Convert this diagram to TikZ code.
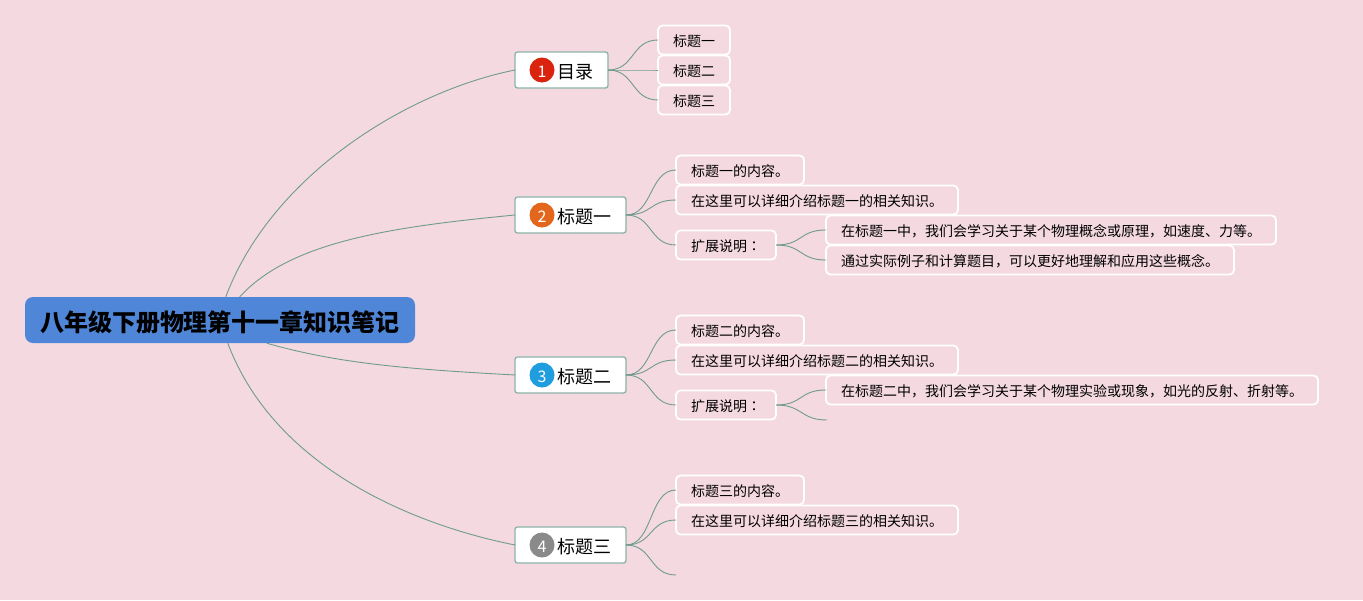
\documentclass[tikz,border=0pt]{standalone}
\usepackage{fontspec}
\setmainfont{Noto Sans CJK SC}
\newfontfamily\tcfont{Noto Sans CJK TC}
\definecolor{bgc}{HTML}{F4D9E1}
\definecolor{linec}{HTML}{6F9B8E}
\definecolor{mainb}{HTML}{8DB3A8}
\definecolor{rootc}{HTML}{4F86D8}
\definecolor{bada}{HTML}{DA2410}
\definecolor{badb}{HTML}{E2661C}
\definecolor{badc}{HTML}{1F9DDF}
\definecolor{badd}{HTML}{8A8A8A}
\tikzset{
  x=1pt,y=-1pt,
  rootbox/.style={rounded corners=8,fill=rootc,draw=none,minimum width=390,minimum height=46,inner sep=0,text height=22,text depth=0,font=\fontsize{24}{24}\selectfont\bfseries,text=black},
  mainbox/.style={rounded corners=2.5,fill=white,draw=mainb,line width=1.3,minimum height=36,inner xsep=15,inner ysep=0,outer sep=0,anchor=west,text height=16.6,text depth=0,font=\fontsize{18}{18}\selectfont,text=black},
  kidbox/.style={rounded corners=4.5,draw=white,line width=1.8,minimum height=29,inner xsep=15,inner ysep=0,outer sep=0,anchor=west,text height=13.6,text depth=0,font=\fontsize{14}{14}\selectfont,text=black},
  badge/.style={circle,minimum size=25,inner sep=0,text=white,text height=14,text depth=0,font=\fontsize{16}{16}\selectfont},
  conn/.style={draw=linec,line width=0.9},
}
\newcommand{\link}[2]{\draw[conn] (#1.east) .. controls +(27,0) and +(-27,0) .. (#2);}
\begin{document}
\begin{tikzpicture}
\path[use as bounding box,fill=bgc] (0,0) rectangle (1363,600);
% root
\node[rootbox] (root) at (220,320) {八年级下册物理第十一章知识笔记};
% main
\node[mainbox] (m1) at (515,70) {\hspace{27pt}目录};
\node[mainbox] (m2) at (515,215) {\hspace{27pt}标题一};
\node[mainbox] (m3) at (515,375) {\hspace{27pt}标题二};
\node[mainbox] (m4) at (515,545) {\hspace{27pt}标题三};
\node[badge,fill=bada] (b1) at ([xshift=27pt]m1.west) {1};
\node[badge,fill=badb] (b2) at ([xshift=27pt]m2.west) {2};
\node[badge,fill=badc] (b3) at ([xshift=27pt]m3.west) {3};
\node[badge,fill=badd] (b4) at ([xshift=27pt]m4.west) {4};
% kids
\node[kidbox] (a1) at (658,40) {标题一};
\node[kidbox] (a2) at (658,70) {标题二};
\node[kidbox] (a3) at (658,100) {标题三};
\node[kidbox] (c1) at (676,170) {标题一的内容。};
\node[kidbox] (c2) at (676,200) {在这里可以详细介绍标题一的相关知识。};
\node[kidbox] (c3) at (676,245) {扩展说明{\tcfont ：}};
\node[kidbox] (c4) at (826,230) {在标题一中，我们会学习关于某个物理概念或原理，如速度、力等。};
\node[kidbox] (c5) at (826,260) {通过实际例子和计算题目，可以更好地理解和应用这些概念。};
\node[kidbox] (d1) at (676,330) {标题二的内容。};
\node[kidbox] (d2) at (676,360) {在这里可以详细介绍标题二的相关知识。};
\node[kidbox] (d3) at (676,405) {扩展说明{\tcfont ：}};
\node[kidbox] (d4) at (826,390) {在标题二中，我们会学习关于某个物理实验或现象，如光的反射、折射等。};
\coordinate (d5) at (827,420);
\node[kidbox] (e1) at (676,490) {标题三的内容。};
\node[kidbox] (e2) at (676,520) {在这里可以详细介绍标题三的相关知识。};
\coordinate (e3) at (676,575);
% root connectors
\draw[conn] ([xshift=201pt]root.north west) .. controls +(45,-120) and +(-110,22) .. (m1.west);
\draw[conn] ([xshift=215pt]root.north west) .. controls +(50,-55) and +(-125,12) .. (m2.west);
\draw[conn] ([xshift=242pt]root.south west) .. controls +(70,20) and +(-110,-6) .. (m3.west);
\draw[conn] ([xshift=203pt]root.south west) .. controls +(45,120) and +(-110,-22) .. (m4.west);
% connectors
\link{m1}{a1.west}\link{m1}{a2.west}\link{m1}{a3.west}
\link{m2}{c1.west}\link{m2}{c2.west}\link{m2}{c3.west}
\link{c3}{c4.west}\link{c3}{c5.west}
\link{m3}{d1.west}\link{m3}{d2.west}\link{m3}{d3.west}
\link{d3}{d4.west}\link{d3}{d5}
\link{m4}{e1.west}\link{m4}{e2.west}\link{m4}{e3}
\end{tikzpicture}
\end{document}
